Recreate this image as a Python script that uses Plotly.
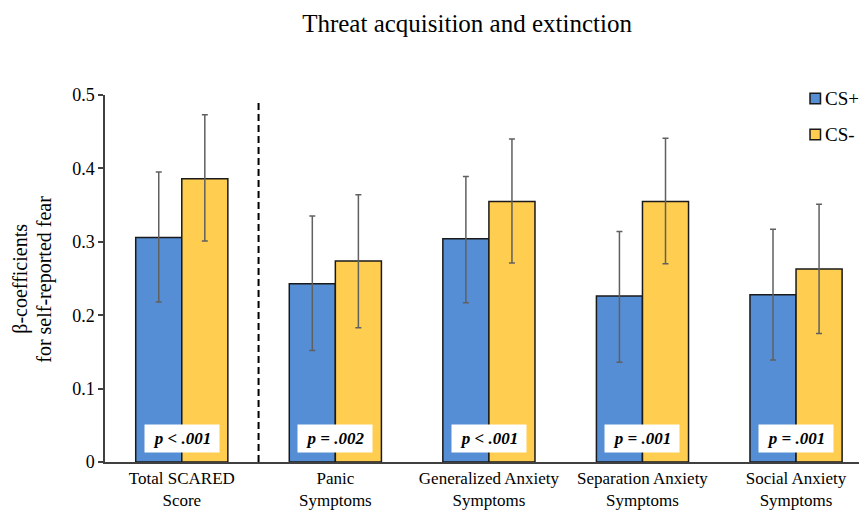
import plotly.graph_objects as go

categories = ["Total SCARED<br>Score", "Panic<br>Symptoms", "Generalized Anxiety<br>Symptoms",
              "Separation Anxiety<br>Symptoms", "Social Anxiety<br>Symptoms"]
cs_plus = [0.306, 0.243, 0.304, 0.226, 0.228]
cs_plus_upper = [0.395, 0.335, 0.389, 0.314, 0.317]
cs_plus_lower = [0.218, 0.152, 0.217, 0.136, 0.139]
cs_minus = [0.386, 0.274, 0.355, 0.355, 0.263]
cs_minus_upper = [0.473, 0.364, 0.440, 0.441, 0.351]
cs_minus_lower = [0.301, 0.183, 0.271, 0.270, 0.175]
p_labels = ["p < .001", "p = .002", "p < .001", "p = .001", "p = .001"]
series_names = ["CS+", "CS-"]

FONT = "Liberation Serif"
BLUE = "#558ED5"
YELLOW = "#FFCD4F"
ERR = "#606060"
EDGE = "#1a1a1a"

x_idx = list(range(len(categories)))

fig = go.Figure()
fig.add_trace(go.Bar(
    x=x_idx, y=cs_plus, name=series_names[0], showlegend=False,
    marker=dict(color=BLUE, line=dict(color=EDGE, width=1.5)),
    error_y=dict(type="data", symmetric=False,
                 array=[u - v for u, v in zip(cs_plus_upper, cs_plus)],
                 arrayminus=[v - l for v, l in zip(cs_plus, cs_plus_lower)],
                 color=ERR, thickness=1.5, width=3),
))
fig.add_trace(go.Bar(
    x=x_idx, y=cs_minus, name=series_names[1], showlegend=False,
    marker=dict(color=YELLOW, line=dict(color=EDGE, width=1.5)),
    error_y=dict(type="data", symmetric=False,
                 array=[u - v for u, v in zip(cs_minus_upper, cs_minus)],
                 arrayminus=[v - l for v, l in zip(cs_minus, cs_minus_lower)],
                 color=ERR, thickness=1.5, width=3),
))

for i, p in enumerate(p_labels):
    fig.add_annotation(x=i, y=0.0316, xref="x", yref="y",
                       text="<b><i>" + p + "</i></b>", showarrow=False,
                       bgcolor="white", width=70, height=23, borderpad=2,
                       font=dict(family=FONT, size=17, color="black"))

fig.add_shape(type="line", xref="x", yref="y", x0=0.5, x1=0.5, y0=0, y1=0.493,
              line=dict(color="black", width=2, dash="7px,4px"))

# y-axis title as two rotated lines
fig.add_annotation(xref="paper", yref="paper", x=(7 - 105) / 754, y=0.498,
                   text="β-coefficients", textangle=-90, showarrow=False,
                   font=dict(family=FONT, size=20, color="black"))
fig.add_annotation(xref="paper", yref="paper", x=(31 - 105) / 754, y=0.498,
                   text="for self-reported fear", textangle=-90, showarrow=False,
                   font=dict(family=FONT, size=20, color="black"))

# legend (drawn manually to match the compact symbol/text spacing)
legend_colors = [BLUE, YELLOW]
legend_y = [98.5, 134.5]
for name, col, yc in zip(series_names, legend_colors, legend_y):
    fig.add_shape(type="rect", xref="paper", yref="paper",
                  x0=(810 - 105) / 754, x1=(820.5 - 105) / 754,
                  y0=(461.7 - (yc + 5.3)) / 366.7, y1=(461.7 - (yc - 5.3)) / 366.7,
                  fillcolor=col, line=dict(color=EDGE, width=1.5))
    fig.add_annotation(xref="paper", yref="paper", x=(823 - 105) / 754,
                       y=(461.7 - yc) / 366.7, xanchor="left", yanchor="middle",
                       text=name, showarrow=False,
                       font=dict(family=FONT, size=19, color="black"))

fig.update_layout(
    width=859, height=511,
    margin=dict(l=105, r=0, t=95, b=49),
    paper_bgcolor="white", plot_bgcolor="white",
    barmode="group", bargap=0.4, bargroupgap=0,
    font=dict(family=FONT, size=17, color="black"),
    title=dict(text="Threat acquisition and extinction", x=0.5437, xref="container",
               xanchor="center", y=0.955, yanchor="middle",
               font=dict(family=FONT, size=25, color="black")),
    showlegend=False,
    xaxis=dict(tickmode="array", tickvals=x_idx, ticktext=categories,
               range=[-0.5, 4.41], showline=True, linecolor="#404040", linewidth=1.5,
               ticks="", showgrid=False, zeroline=False,
               tickfont=dict(family=FONT, size=17, color="black")),
    yaxis=dict(range=[0, 0.5], tickvals=[0, 0.1, 0.2, 0.3, 0.4, 0.5],
               ticktext=["0", "0.1", "0.2", "0.3", "0.4", "0.5"],
               showline=True, linecolor="#404040", linewidth=1.5,
               ticks="outside", ticklen=5, tickcolor="#404040", tickwidth=1.5,
               showgrid=False, zeroline=False,
               tickfont=dict(family=FONT, size=18, color="black")),
)

fig.write_html("out.html")
